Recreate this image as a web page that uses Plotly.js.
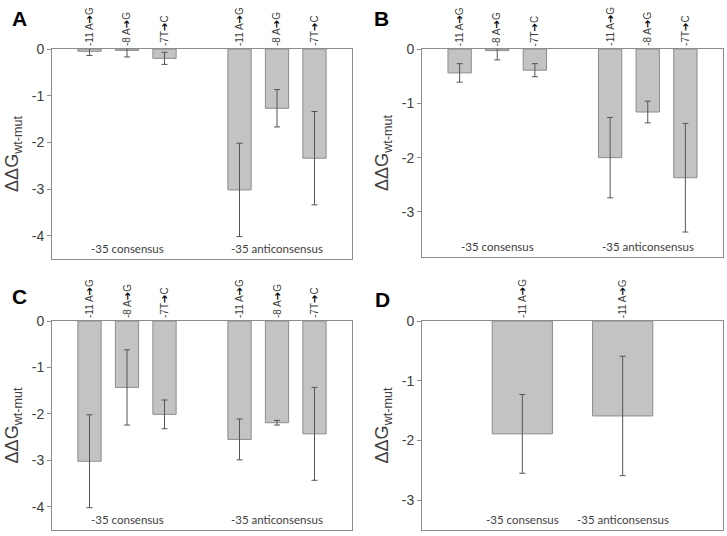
<!DOCTYPE html>
<html>
<head>
<meta charset="utf-8">
<script src="https://cdn.plot.ly/plotly-3.0.1.min.js"></script>
<style>html,body{margin:0;padding:0;background:#fff;}#chart{width:727px;height:536px;}</style>
</head>
<body>
<div id="chart"></div>
<script>
// ---- data ----
const groups = ['-35 consensus', '-35 anticonsensus'];
const mutations = ['-11 A➔G', '-8 A➔G', '-7T➔C'];
const mutationsD = ['-11 A➔G'];

const valuesA = [-0.05, -0.03, -0.20, -3.02, -1.27, -2.34];
const errorsA = [0.09, 0.14, 0.13, 1.00, 0.40, 1.00];

const valuesB = [-0.44, -0.03, -0.39, -2.00, -1.16, -2.37];
const errorsB = [0.17, 0.17, 0.12, 0.74, 0.20, 1.00];

const valuesC = [-3.02, -1.43, -2.01, -2.55, -2.19, -2.43];
const errorsC = [1.00, 0.81, 0.31, 0.44, 0.05, 1.00];

const valuesD = [-1.89, -1.59];
const errorsD = [0.66, 1.00];

const ticksAC = [0, -1, -2, -3, -4];
const ticksBD = [0, -1, -2, -3];

const panelLetters = ['A', 'B', 'C', 'D'];
const yTitle = 'ΔΔG<sub>wt-mut</sub>';

// ---- layout helpers ----
const W = 727, H = 536;
function px2x(a, b) { return [a / W, b / W]; }
function px2y(top, bottom) { return [1 - bottom / H, 1 - top / H]; }

const panels = [
  { vals: valuesA, errs: errorsA, muts: mutations, ticks: ticksAC, xd: px2x(52, 352), yd: px2y(49, 259), yr: [-4.5, 0], bw: 0.62, letter: [10, 5] },
  { vals: valuesB, errs: errorsB, muts: mutations, ticks: ticksBD, xd: px2x(422, 723), yd: px2y(49, 257), yr: [-3.83, 0], bw: 0.62, letter: [372, 5] },
  { vals: valuesC, errs: errorsC, muts: mutations, ticks: ticksAC, xd: px2x(52, 352), yd: px2y(321, 530), yr: [-4.5, 0], bw: 0.62, letter: [10, 283] },
  { vals: valuesD, errs: errorsD, muts: mutationsD, ticks: ticksBD, xd: px2x(422, 723), yd: px2y(321, 530), yr: [-3.5, 0], bw: 0.6, letter: [373, 286] }
];

const data = [];
const layout = {
  width: W, height: H,
  margin: { l: 0, r: 0, t: 0, b: 0 },
  paper_bgcolor: '#fff', plot_bgcolor: '#fff',
  showlegend: false,
  font: { family: 'Liberation Sans, Arial, sans-serif', color: '#404040' },
  annotations: []
};

panels.forEach((p, k) => {
  const n = k + 1;
  const xa = n === 1 ? 'x' : 'x' + n;
  const ya = n === 1 ? 'y' : 'y' + n;
  const perGroup = p.muts.length;
  const gap = perGroup > 1 ? 1 : 0; // empty slot between groups
  const slot = perGroup + gap;
  const xs = [], labels = [];
  groups.forEach((g, gi) => {
    p.muts.forEach((m, mi) => {
      xs.push(gi * slot + mi + 1);
      labels.push(m);
    });
  });
  const xmax = groups.length * perGroup + (groups.length - 1) * gap + 1;

  data.push({
    type: 'bar', x: xs, y: p.vals, xaxis: xa, yaxis: ya, width: p.bw,
    marker: { color: '#c3c3c3', line: { color: '#8c8c8c', width: 1 } },
    error_y: { type: 'data', array: p.errs, visible: true, color: '#555', thickness: 1, width: 3 },
    hoverinfo: 'skip'
  });

  layout[n === 1 ? 'xaxis' : 'xaxis' + n] = {
    domain: p.xd, anchor: ya, range: [0, xmax],
    showticklabels: false, ticks: '', showgrid: false, zeroline: false,
    showline: true, mirror: true, linecolor: '#8c8c8c', linewidth: 1, fixedrange: true
  };
  layout[n === 1 ? 'yaxis' : 'yaxis' + n] = {
    domain: p.yd, anchor: xa, range: p.yr,
    tickmode: 'array', tickvals: p.ticks, ticktext: p.ticks.map(v => String(v)),
    ticks: 'outside', ticklen: 4, tickcolor: '#8c8c8c',
    tickfont: { size: 14, color: '#404040', family: 'Liberation Sans, Arial, sans-serif' },
    showgrid: false, zeroline: false,
    showline: true, mirror: true, linecolor: '#8c8c8c', linewidth: 1, fixedrange: true,
    title: { text: yTitle, font: { size: 18, color: '#404040', family: 'Liberation Sans, Arial, sans-serif' }, standoff: 8 }
  };

  // rotated mutation labels above each bar
  xs.forEach((xv, i) => {
    const parts = labels[i].split('➔');
    layout.annotations.push({
      xref: xa, yref: ya, x: xv, y: 0, yanchor: 'bottom', xanchor: 'center',
      yshift: 1, textangle: -90, showarrow: false,
      text: parts[0] + '<b><span style="color:#000">➔</span></b>' + parts[1],
      font: { size: 10, color: '#404040', family: 'Liberation Sans, DejaVu Sans, sans-serif' }
    });
  });

  // group labels near the bottom of the plot
  groups.forEach((g, gi) => {
    const cx = gi * slot + (perGroup + 1) / 2;
    layout.annotations.push({
      xref: xa, yref: ya + ' domain', x: cx, y: 0, yanchor: 'bottom', xanchor: 'center',
      yshift: 2, showarrow: false, text: g,
      font: { size: 11.5, color: '#404040', family: 'Lato, Open Sans, sans-serif' }
    });
  });

  // panel letter
  layout.annotations.push({
    xref: 'paper', yref: 'paper', x: p.letter[0] / W, y: 1 - p.letter[1] / H,
    xanchor: 'left', yanchor: 'top', showarrow: false, text: '<b>' + panelLetters[k] + '</b>',
    font: { size: 21, color: '#000', family: 'Liberation Sans, Arial, sans-serif' }
  });
});

Plotly.newPlot('chart', data, layout, { staticPlot: true, displayModeBar: false });
</script>
</body>
</html>
